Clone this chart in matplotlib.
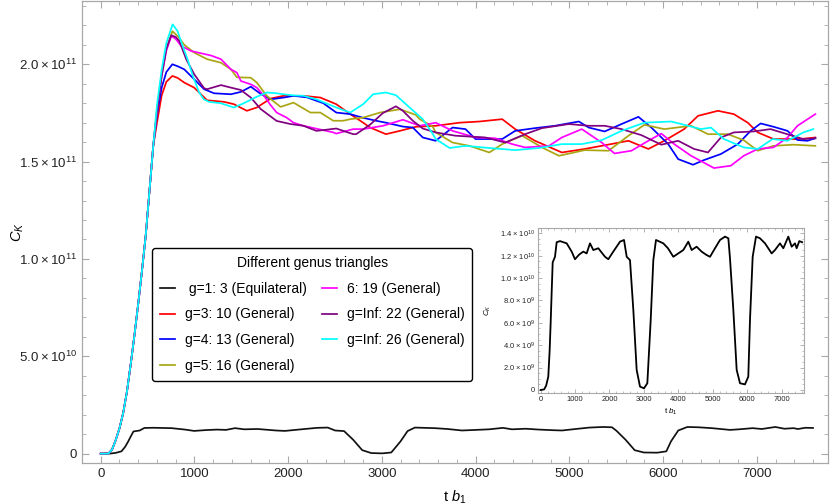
import matplotlib
matplotlib.use("Agg")
import matplotlib.pyplot as plt
import numpy as np

plt.rcParams['font.family'] = ['Liberation Sans', 'DejaVu Sans']
plt.rcParams['mathtext.fontset'] = 'custom'
plt.rcParams['mathtext.rm'] = 'Liberation Sans'
plt.rcParams['mathtext.it'] = 'Liberation Sans:italic'
plt.rcParams['mathtext.default'] = 'regular'

# ---------------- data (values in units of 1e11 for main curves) ----------------
rise_t = [0, 80, 120, 160, 200, 240, 280, 320, 360, 400, 440, 480, 520, 560]
rise_v = [0, 0.0, 0.02, 0.07, 0.13, 0.21, 0.32, 0.46, 0.61, 0.77, 0.94, 1.12, 1.35, 1.58]

eq_t = [0, 100, 160, 221, 260, 290, 320, 349, 416, 465, 562, 756, 901, 997, 1120, 1239, 1336,
        1433, 1530, 1675, 1869, 1966, 2110, 2306, 2422, 2500, 2596, 2693, 2790, 2887, 3003,
        3100, 3198, 3274, 3352, 3564, 3700, 3855, 4000, 4145, 4291, 4388, 4533, 4678, 4825,
        4922, 5067, 5213, 5358, 5455, 5503, 5600, 5697, 5794, 5938, 6035, 6084, 6162, 6259,
        6375, 6521, 6714, 6810, 6956, 7053, 7198, 7295, 7392, 7440, 7518, 7600]
eq_v = [0, 0.05, 0.4, 1.19, 3.5, 6.0, 8.8, 11.4, 11.9, 13.2, 13.3, 13.1, 12.36, 11.68, 12.1,
        12.36, 12.2, 13.1, 12.5, 12.66, 11.9, 11.68, 12.36, 13.25, 13.4, 11.9, 11.6, 7.15, 1.79,
        0.3, 0.15, 0.6, 6.26, 11.6, 13.4, 13.1, 12.66, 11.9, 12.2, 12.5, 13.25, 12.5, 12.8,
        12.36, 12.05, 11.9, 12.66, 13.4, 13.7, 13.55, 11.75, 7.15, 1.79, 0.6, 0.5, 1.19, 6.26,
        11.9, 13.7, 13.55, 13.1, 12.2, 12.5, 13.1, 12.66, 13.7, 12.8, 13.1, 12.66, 13.3, 13.2]  # 1e9

g3_t = [600, 650, 700, 764, 820, 891, 997, 1135, 1315, 1421, 1559, 1665, 1813, 1951, 2163, 2343,
        2513, 2662, 2800, 2874, 3043, 3192, 3362, 3574, 3828, 4040, 4284, 4422, 4634, 4920, 5164,
        5345, 5631, 5843, 6013, 6225, 6373, 6585, 6755, 6904, 7010, 7179, 7465, 7625]
g3_v = [1.70, 1.84, 1.91, 1.94, 1.93, 1.906, 1.88, 1.815, 1.807, 1.795, 1.761, 1.778, 1.824, 1.838,
        1.838, 1.829, 1.795, 1.744, 1.70, 1.675, 1.641, 1.658, 1.679, 1.684, 1.70, 1.706, 1.718,
        1.667, 1.607, 1.547, 1.565, 1.581, 1.607, 1.565, 1.607, 1.667, 1.735, 1.761, 1.744, 1.70,
        1.65, 1.616, 1.616, 1.624]

g4_t = [600, 650, 700, 764, 820, 891, 997, 1103, 1209, 1389, 1495, 1601, 1700, 1813, 1951, 2057,
        2200, 2375, 2513, 2662, 2800, 2937, 3043, 3224, 3330, 3436, 3574, 3754, 3892, 3998, 4284,
        4422, 4634, 4846, 5101, 5207, 5377, 5557, 5737, 5875, 6055, 6161, 6320, 6437, 6617, 6798,
        6935, 7041, 7179, 7328, 7434, 7540, 7625]
g4_v = [1.74, 1.88, 1.96, 2.0, 1.99, 1.974, 1.923, 1.872, 1.851, 1.846, 1.858, 1.885, 1.85, 1.82,
        1.829, 1.838, 1.83, 1.80, 1.752, 1.744, 1.725, 1.71, 1.70, 1.68, 1.675, 1.624, 1.607,
        1.675, 1.667, 1.616, 1.616, 1.658, 1.672, 1.684, 1.706, 1.675, 1.655, 1.693, 1.73, 1.675,
        1.59, 1.513, 1.484, 1.508, 1.539, 1.59, 1.658, 1.696, 1.679, 1.658, 1.611, 1.607, 1.62]

g5_t = [600, 650, 700, 764, 830, 891, 997, 1135, 1283, 1389, 1453, 1601, 1665, 1771, 1919, 2057,
        2237, 2343, 2481, 2587, 2662, 2800, 2980, 3192, 3362, 3404, 3542, 3574, 3754, 3934, 4146,
        4284, 4496, 4708, 4889, 5164, 5419, 5631, 5801, 6013, 6299, 6479, 6691, 6861, 7010, 7179,
        7391, 7625]
g5_v = [1.77, 1.95, 2.08, 2.17, 2.14, 2.10, 2.06, 2.026, 2.008, 1.974, 1.933, 1.931, 1.906, 1.838,
        1.781, 1.803, 1.752, 1.752, 1.71, 1.71, 1.718, 1.726, 1.752, 1.769, 1.74, 1.718, 1.68,
        1.65, 1.598, 1.581, 1.547, 1.59, 1.633, 1.573, 1.53, 1.559, 1.556, 1.633, 1.689, 1.667,
        1.684, 1.641, 1.641, 1.61, 1.556, 1.581, 1.587, 1.581]

g6_t = [600, 650, 700, 753, 800, 859, 965, 1177, 1283, 1389, 1453, 1495, 1601, 1665, 1739, 1813,
        1877, 1983, 2057, 2163, 2481, 2513, 2694, 2800, 3012, 3224, 3404, 3574, 3754, 3998, 4210,
        4390, 4528, 4783, 4920, 5133, 5345, 5482, 5663, 5843, 5981, 6119, 6299, 6543, 6723, 6861,
        7010, 7179, 7328, 7434, 7625]
g6_v = [1.76, 1.94, 2.07, 2.145, 2.13, 2.094, 2.068, 2.045, 2.026, 1.974, 1.957, 1.914, 1.897,
        1.88, 1.84, 1.79, 1.752, 1.726, 1.70, 1.684, 1.65, 1.644, 1.667, 1.667, 1.684, 1.715,
        1.684, 1.70, 1.658, 1.624, 1.62, 1.59, 1.573, 1.581, 1.624, 1.667, 1.598, 1.542, 1.556,
        1.607, 1.644, 1.59, 1.53, 1.467, 1.479, 1.53, 1.565, 1.573, 1.624, 1.684, 1.744]

g22_t = [600, 650, 700, 753, 800, 838, 912, 997, 1103, 1135, 1283, 1389, 1495, 1601, 1707, 1877,
         2025, 2163, 2301, 2375, 2513, 2694, 2725, 2874, 3012, 3150, 3224, 3330, 3436, 3574, 3786,
         4104, 4316, 4528, 4708, 4995, 5207, 5377, 5557, 5769, 5981, 6161, 6331, 6479, 6617, 6755,
         6967, 7147, 7359, 7497, 7625]
g22_v = [1.76, 1.94, 2.08, 2.149, 2.14, 2.12, 2.026, 1.949, 1.877, 1.872, 1.893, 1.88, 1.868, 1.829,
         1.77, 1.709, 1.693, 1.684, 1.658, 1.662, 1.67, 1.641, 1.641, 1.69, 1.75, 1.784, 1.761,
         1.71, 1.67, 1.65, 1.633, 1.624, 1.598, 1.641, 1.672, 1.693, 1.684, 1.684, 1.667, 1.636,
         1.587, 1.607, 1.565, 1.547, 1.624, 1.65, 1.655, 1.667, 1.636, 1.616, 1.62]

g26_t = [600, 650, 700, 767, 820, 870, 926, 990, 1050, 1100, 1156, 1280, 1421, 1527, 1650, 1771,
         1877, 1951, 2057, 2163, 2301, 2513, 2662, 2800, 2906, 3043, 3150, 3256, 3436, 3542, 3574,
         3722, 3892, 4146, 4422, 4676, 4920, 5133, 5345, 5557, 5801, 6087, 6267, 6405, 6511, 6649,
         6861, 7010, 7169, 7328, 7497, 7603]
g26_v = [1.79, 1.97, 2.11, 2.205, 2.17, 2.10, 2.026, 1.93, 1.855, 1.82, 1.807, 1.80, 1.778, 1.80,
         1.83, 1.855, 1.851, 1.846, 1.84, 1.838, 1.82, 1.778, 1.752, 1.795, 1.846, 1.855, 1.841,
         1.795, 1.718, 1.643, 1.616, 1.57, 1.581, 1.57, 1.559, 1.57, 1.59, 1.59, 1.61, 1.658, 1.70,
         1.706, 1.684, 1.667, 1.675, 1.616, 1.573, 1.565, 1.616, 1.607, 1.65, 1.667]

labels = [" g=1: 3 (Equilateral)", "g=3: 10 (General)", "g=4: 13 (General)", "g=5: 16 (General)",
          "6: 19 (General)", "g=Inf: 22 (General)", "g=Inf: 26 (General)"]
colors = ["#111111", "#ff0000", "#0000ff", "#aaa613", "#ff00ff", "#800080", "#00ffff"]

main_yticks = [0, 5e10, 1e11, 1.5e11, 2e11]
main_yticklabels = ["0", "5.0\u2009×\u200910$^{10}$", "1.0\u2009×\u200910$^{11}$",
                    "1.5\u2009×\u200910$^{11}$", "2.0\u2009×\u200910$^{11}$"]
inset_yticks = [0, 2e9, 4e9, 6e9, 8e9, 1e10, 1.2e10, 1.4e10]
inset_yticklabels = ["0", "2.0 × 10$^{9}$", "4.0 × 10$^{9}$", "6.0 × 10$^{9}$",
                     "8.0 × 10$^{9}$", "1.0 × 10$^{10}$", "1.2 × 10$^{10}$", "1.4 × 10$^{10}$"]
xticks = [0, 1000, 2000, 3000, 4000, 5000, 6000, 7000]

# ---------------- figure ----------------
fig = plt.figure(figsize=(8.3, 5.04), dpi=100)
ax = fig.add_axes([82/830, 1 - 463/504, 746/830, 462/504])

frame_col = "#a8a8a8"
lw = 1.25

def series(t, v):
    tt = np.array(rise_t + t, dtype=float)
    vv = np.array(rise_v + v, dtype=float) * 1e11
    return tt, vv

eq_t_arr = np.array(eq_t, dtype=float)
eq_v_arr = np.array(eq_v, dtype=float) * 1e9

ax.plot(eq_t_arr, eq_v_arr, color=colors[0], lw=lw, label=labels[0])
for (t, v), c, lab in zip([(g3_t, g3_v), (g4_t, g4_v), (g5_t, g5_v), (g6_t, g6_v),
                           (g22_t, g22_v), (g26_t, g26_v)], colors[1:], labels[1:]):
    tt, vv = series(t, v)
    ax.plot(tt, vv, color=c, lw=lw, label=lab)

ax.set_xlim(-150, 7760)
ax.set_ylim(-4.8e9, 2.325e11)
ax.set_xticks(xticks)
ax.set_xticklabels([str(x) for x in xticks])
ax.set_xticks(np.arange(-200, 7800, 200), minor=True)
ax.set_yticks(main_yticks)
ax.set_yticklabels(main_yticklabels)
ax.set_yticks(np.arange(0, 2.33e11, 1e10), minor=True)
for s in ax.spines.values():
    s.set_color(frame_col)
    s.set_linewidth(0.9)
ax.tick_params(which='both', direction='in', top=True, right=True, color=frame_col,
               labelsize=9.5, labelcolor='#222222')
ax.tick_params(which='major', length=5, width=0.8)
ax.tick_params(which='minor', length=3, width=0.6)
ax.set_xlabel(r"t $\mathit{b}_1$", fontsize=10.5, labelpad=6)
ax.set_ylabel(r"$\mathit{C}_\mathit{K}$", fontsize=10.5, labelpad=10)
ax.yaxis.set_label_coords(-0.075, 0.5)

leg = ax.legend(ncol=2, loc='upper left', bbox_to_anchor=(0.0938, 0.465),
                title="Different genus triangles", fontsize=10, title_fontsize=10,
                frameon=True, fancybox=True, edgecolor='black', handlelength=1.1,
                handletextpad=0.7, columnspacing=1.1, labelspacing=0.85, borderpad=0.55,
                borderaxespad=0)
leg.get_frame().set_linewidth(1.0)
leg.get_frame().set_alpha(1)

# ---------------- inset ----------------
ins = fig.add_axes([538/830, 1 - 393/504, 266/830, 165/504])
ins.plot(eq_t_arr, eq_v_arr, color='black', lw=1.3)
ins.set_xlim(-78, 7654)
ins.set_ylim(-2.7e8, 1.447e10)
ins.set_xticks(xticks)
ins.set_xticklabels([str(x) for x in xticks])
ins.set_xticks(np.arange(0, 7700, 200), minor=True)
ins.set_yticks(inset_yticks)
ins.set_yticklabels(inset_yticklabels)
ins.set_yticks(np.arange(0, 1.45e10, 5e8), minor=True)
for s in ins.spines.values():
    s.set_color(frame_col)
    s.set_linewidth(0.8)
ins.tick_params(which='both', direction='in', top=True, right=True, color=frame_col,
                labelsize=5.4, labelcolor='#222222', pad=2)
ins.tick_params(which='major', length=3, width=0.6)
ins.tick_params(which='minor', length=1.6, width=0.5)
ins.set_xlabel(r"t $\mathit{b}_1$", fontsize=5.8, labelpad=3)
ins.set_ylabel(r"$\mathit{C}_\mathit{K}$", fontsize=5.8, labelpad=5)

fig.savefig("out.png", dpi=100)
